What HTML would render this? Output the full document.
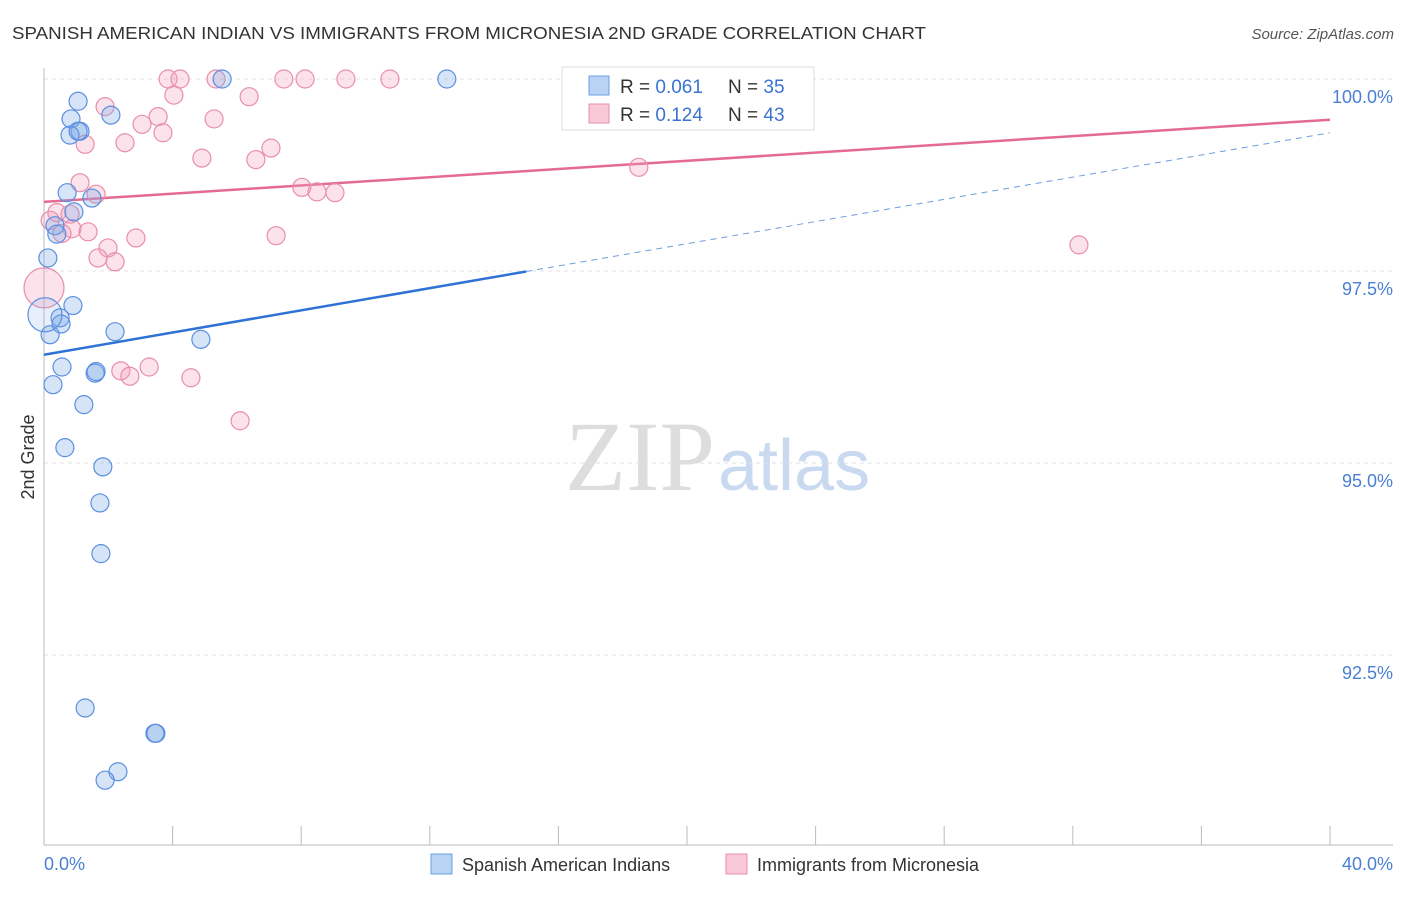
<!DOCTYPE html>
<html><head><meta charset="utf-8"><style>
body{margin:0;background:#fff;font-family:"Liberation Sans",sans-serif;}
</style></head><body>
<svg width="1406" height="892" xmlns="http://www.w3.org/2000/svg" id="chart">
<text x="12" y="39" font-size="17.5" fill="#333" textLength="914" lengthAdjust="spacingAndGlyphs">SPANISH AMERICAN INDIAN VS IMMIGRANTS FROM MICRONESIA 2ND GRADE CORRELATION CHART</text>
<text x="1394" y="39" font-size="15" fill="#555" font-style="italic" text-anchor="end">Source: ZipAtlas.com</text>
<text x="715" y="490" font-size="100" fill="#ddd" font-family="Liberation Serif,serif" text-anchor="end">ZIP</text>
<text x="718" y="490" font-size="72" fill="#c9d9f0">atlas</text>
<text transform="translate(34,457) rotate(-90)" font-size="18" fill="#333" text-anchor="middle">2nd Grade</text>
<g id="grid"></g><g id="axes"></g><g id="lines"></g><g id="pts"></g>
<g>
<rect x="562" y="67" width="252" height="63" fill="#fff" stroke="#ddd"/>
<rect x="589" y="76" width="20" height="19" fill="#b9d3f5" stroke="#6d9de0"/>
<rect x="589" y="104" width="20" height="19" fill="#f9c9d8" stroke="#e98eab"/>
<text x="620" y="93" font-size="19" fill="#333">R = <tspan fill="#3a73d0">0.061</tspan></text>
<text x="728" y="93" font-size="19" fill="#333">N = <tspan fill="#3a73d0">35</tspan></text>
<text x="620" y="121" font-size="19" fill="#333">R = <tspan fill="#3a73d0">0.124</tspan></text>
<text x="728" y="121" font-size="19" fill="#333">N = <tspan fill="#3a73d0">43</tspan></text>
</g>
<g>
<rect x="431" y="854" width="21" height="20" fill="#b9d3f5" stroke="#6d9de0"/>
<text x="462" y="871" font-size="18" fill="#333">Spanish American Indians</text>
<rect x="726" y="854" width="21" height="20" fill="#f9c9d8" stroke="#e98eab"/>
<text x="757" y="871" font-size="18" fill="#333">Immigrants from Micronesia</text>
</g>
</svg>
<script>
const yTicks=[100,97.5,95,92.5];
const yTickLabels=["100.0%","97.5%","95.0%","92.5%"];
const xTicks=[0,4,8,12,16,20,24,28,32,36,40];
const blueX=[5.54,12.53,1.06,2.08,0.84,1.12,0.81,1.06,0.72,1.49,0.93,0.34,0.40,0.12,0.90,0.50,0.53,0.19,2.21,4.88,0.56,1.59,1.62,0.28,1.24,0.65,1.83,1.74,1.77,1.28,3.45,3.48,2.30,1.90,0.03];
const blueY=[100,100,99.71,99.53,99.48,99.32,99.27,99.32,98.52,98.45,98.27,98.09,97.98,97.67,97.05,96.89,96.81,96.67,96.71,96.61,96.25,96.17,96.19,96.02,95.76,95.20,94.95,94.48,93.82,91.81,91.48,91.48,90.98,90.87,96.93];
const pinkX=[3.86,4.23,5.35,7.46,8.12,9.39,10.76,4.04,6.38,1.90,3.55,3.05,5.29,3.70,1.28,2.52,4.91,6.59,7.06,18.50,1.12,1.62,8.02,8.49,9.05,0.40,0.81,0.87,1.37,0.56,2.86,7.22,1.99,1.68,2.21,32.19,0,2.39,2.67,3.27,4.57,6.10,0.19];
const pinkY=[100,100,100,100,100,100,100,99.79,99.77,99.64,99.51,99.41,99.48,99.30,99.15,99.17,98.97,98.95,99.10,98.85,98.65,98.50,98.59,98.53,98.52,98.26,98.24,98.05,98.01,97.99,97.93,97.96,97.80,97.67,97.62,97.84,97.28,96.20,96.13,96.25,96.11,95.55,98.16];
const blueTrend=[96.41,99.30];
const pinkTrend=[98.40,99.47];
const NS="http://www.w3.org/2000/svg";
const X=v=>44+v/40*1286, Y=v=>79+(100-v)/2.5*192;
function mk(t,a,p){const e=document.createElementNS(NS,t);for(const k in a)e.setAttribute(k,a[k]);document.getElementById(p).appendChild(e);return e;}
yTicks.forEach((t,i)=>{
 const l=mk('line',{x1:44,x2:1393,y1:Y(t),y2:Y(t),stroke:'#e2e2e2','stroke-dasharray':'4,4'},'grid');
 
 
 const tx=mk('text',{x:1393,y:Y(t)+24,'font-size':18,fill:'#4a7fd4','text-anchor':'end'},'grid');tx.textContent=yTickLabels[i];
 
 
});
const ax=mk('line',{x1:44,x2:44,y1:68,y2:845,stroke:'#bbb'},'axes');


const bx=mk('line',{x1:44,x2:1393,y1:845,y2:845,stroke:'#bbb'},'axes');


xTicks.forEach(t=>{const l=mk('line',{x1:X(t),x2:X(t),y1:826,y2:845,stroke:'#bbb'},'axes');
 
 });
const xl0=mk('text',{x:44,y:870,'font-size':18,fill:'#4a7fd4'},'axes');xl0.textContent='0.0%';


const xl1=mk('text',{x:1393,y:870,'font-size':18,fill:'#4a7fd4','text-anchor':'end'},'axes');xl1.textContent='40.0%';


const bYat=x=>blueTrend[0]+(blueTrend[1]-blueTrend[0])*x/40;
const bl=mk('line',{x1:X(0),y1:Y(bYat(0)),x2:X(15),y2:Y(bYat(15)),stroke:'#2f72d6','stroke-width':2.5},'lines');


const bd=mk('line',{x1:X(15),y1:Y(bYat(15)),x2:X(40),y2:Y(bYat(40)),stroke:'#6d9de0','stroke-width':1,'stroke-dasharray':'6,5'},'lines');


const pl=mk('line',{x1:X(0),y1:Y(pinkTrend[0]),x2:X(40),y2:Y(pinkTrend[1]),stroke:'#e46a93','stroke-width':2.5},'lines');


pinkX.forEach((x,i)=>{const c=mk('circle',{cx:X(x),cy:Y(pinkY[i]),r:(x===0?20:9),fill:'rgba(243,160,188,0.3)',stroke:'#e98eab','stroke-width':1.2},'pts');
 
 });
blueX.forEach((x,i)=>{const c=mk('circle',{cx:X(x),cy:Y(blueY[i]),r:(i===34?17:9),fill:(i===34?'rgba(120,165,230,0.18)':'rgba(120,165,230,0.3)'),stroke:'#5b8fe0','stroke-width':1.2},'pts');
 
 });
</script>
</body></html>
